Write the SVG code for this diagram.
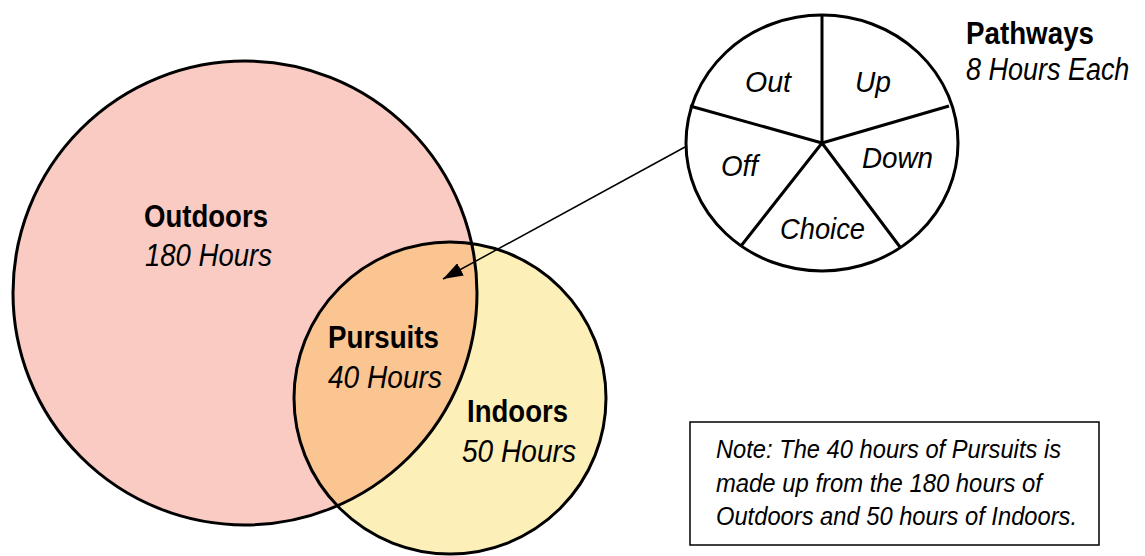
<svg xmlns="http://www.w3.org/2000/svg" width="1145" height="556" viewBox="0 0 1145 556">
<style>
.b{font-family:"Liberation Sans",Arial,sans-serif;font-weight:bold;font-size:31px;fill:#000}
.i{font-family:"Liberation Sans",Arial,sans-serif;font-style:italic;font-size:31px;fill:#000}
.p{font-family:"Liberation Sans",Arial,sans-serif;font-style:italic;font-size:30px;fill:#000}
.n{font-family:"Liberation Sans",Arial,sans-serif;font-style:italic;font-size:26px;fill:#000}
.s{fill:none;stroke:#000;stroke-width:3}
</style>
<defs>
<clipPath id="clipOut"><circle cx="245" cy="293" r="232"/></clipPath>
<marker id="ah2" viewBox="0 0 20 14" refX="20" refY="7" markerWidth="20" markerHeight="14" markerUnits="userSpaceOnUse" orient="auto"><path d="M0,0 L20,7 L0,14 z" fill="#000"/></marker>
</defs>
<rect width="1145" height="556" fill="#fff"/>
<g id="outdoors">
<circle cx="245" cy="293" r="232" fill="#f9cbc3"/>
</g>
<g id="indoors">
<circle cx="450" cy="398" r="156" fill="#fdefb8"/>
</g>
<g id="pursuits">
<circle cx="450" cy="398" r="156" fill="#fbc592" clip-path="url(#clipOut)"/>
</g>
<g id="outlines">
<circle class="s" cx="245" cy="293" r="232"/>
<circle class="s" cx="450" cy="398" r="156"/>
</g>
<g id="outdoors-label">
<text class="b" x="144" y="227" textLength="124" lengthAdjust="spacingAndGlyphs">Outdoors</text>
<text class="i" x="145" y="266" textLength="127" lengthAdjust="spacingAndGlyphs">180 Hours</text>
</g>
<g id="pursuits-label">
<text class="b" x="328" y="348" textLength="111" lengthAdjust="spacingAndGlyphs">Pursuits</text>
<text class="i" x="328" y="388" textLength="114" lengthAdjust="spacingAndGlyphs">40 Hours</text>
</g>
<g id="indoors-label">
<text class="b" x="467" y="422" textLength="101" lengthAdjust="spacingAndGlyphs">Indoors</text>
<text class="i" x="462" y="462" textLength="114" lengthAdjust="spacingAndGlyphs">50 Hours</text>
</g>
<g id="pathways">
<ellipse class="s" cx="822" cy="143" rx="136" ry="128" fill="#fff"/>
<path class="s" d="M822,143 L822,15 M822,143 L949,106 M822,143 L690,106 M822,143 L900,247 M822,143 L741,246"/>
<text class="p" x="745" y="92" textLength="46" lengthAdjust="spacingAndGlyphs">Out</text>
<text class="p" x="855" y="92" textLength="36" lengthAdjust="spacingAndGlyphs">Up</text>
<text class="p" x="721" y="176" textLength="37" lengthAdjust="spacingAndGlyphs">Off</text>
<text class="p" x="862" y="168" textLength="71" lengthAdjust="spacingAndGlyphs">Down</text>
<text class="p" x="780" y="239" textLength="85" lengthAdjust="spacingAndGlyphs">Choice</text>
</g>
<g id="pathways-label">
<text class="b" x="966" y="44" textLength="128" lengthAdjust="spacingAndGlyphs">Pathways</text>
<text class="i" transform="translate(966,80) scale(0.87,1)" x="0" y="0">8 Hours Each</text>
</g>
<g id="connectors">
<line x1="685" y1="147" x2="443" y2="279" stroke="#000" stroke-width="1.5" marker-end="url(#ah2)"/>
</g>
<g id="note">
<rect x="690" y="422" width="409" height="123" fill="#fff" stroke="#000" stroke-width="1.5"/>
<text class="n" x="716" y="458" textLength="345" lengthAdjust="spacingAndGlyphs">Note: The 40 hours of Pursuits is</text>
<text class="n" x="716" y="492" textLength="326" lengthAdjust="spacingAndGlyphs">made up from the 180 hours of</text>
<text class="n" x="716" y="525" textLength="361" lengthAdjust="spacingAndGlyphs">Outdoors and 50 hours of Indoors.</text>
</g>
</svg>
